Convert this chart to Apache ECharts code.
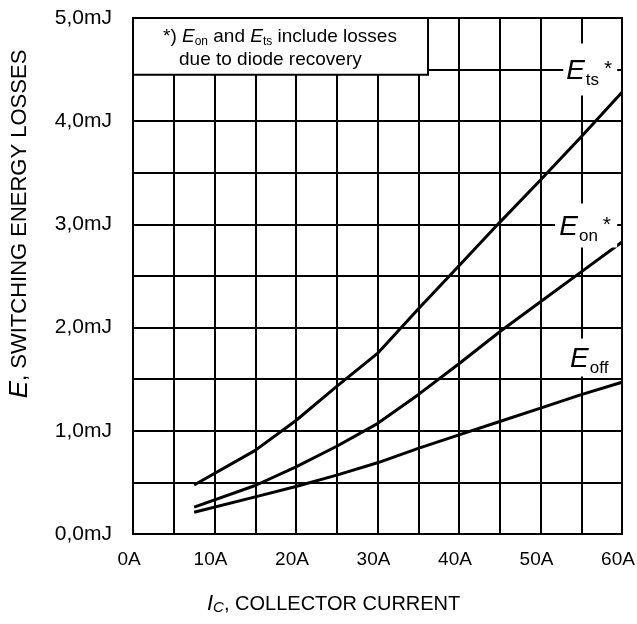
<!DOCTYPE html>
<html>
<head>
<meta charset="utf-8">
<script src="https://cdn.jsdelivr.net/npm/echarts@6/dist/echarts.min.js"></script>
<style>
  html, body { margin: 0; padding: 0; background: #fff; }
  #chart { width: 637px; height: 624px; }
</style>
</head>
<body>
<div id="chart"></div>
<script>
// Collector current (A) sample points
const currents = [7.5, 15, 20, 25, 30, 35, 40, 45, 50, 55, 60];
// Switching energy losses (mJ)
const eTs  = [0.475, 0.81, 1.10, 1.43, 1.75, 2.18, 2.60, 3.02, 3.43, 3.85, 4.28];
const eOn  = [0.26, 0.47, 0.65, 0.85, 1.07, 1.35, 1.65, 1.96, 2.25, 2.54, 2.83];
const eOff = [0.21, 0.36, 0.46, 0.57, 0.69, 0.83, 0.96, 1.09, 1.22, 1.35, 1.47];

// Axis tick labels
const xTickValues = [0, 10, 20, 30, 40, 50, 60];
const xTickLabels = ['0A', '10A', '20A', '30A', '40A', '50A', '60A'];
const yTickValues = [0, 1, 2, 3, 4, 5];
const yTickLabels = ['0,0mJ', '1,0mJ', '2,0mJ', '3,0mJ', '4,0mJ', '5,0mJ'];

const FONT = 'Liberation Sans, Arial, Helvetica, sans-serif';

function pairs(xs, ys) { return xs.map((x, i) => [x, ys[i]]); }

function curveLabel(name, sub, star, coord, box, offset) {
  return {
    silent: true,
    data: [{ coord: coord }],
    symbol: 'rect',
    symbolSize: box,
    itemStyle: { color: '#fff' },
    label: {
      show: true,
      position: 'inside',
      offset: offset,
      formatter: '{e|' + name + '}{s|' + sub + '}' + (star ? '{a|*}' : ''),
      rich: {
        e: { fontFamily: FONT, fontStyle: 'italic', fontSize: 28, color: '#000', padding: [0, 1, 0, 0] },
        s: { fontFamily: FONT, fontSize: 17, color: '#000', padding: [17, 0, 0, 0] },
        a: { fontFamily: FONT, fontSize: 21, color: '#000', padding: [0, 0, 4, 5] }
      }
    }
  };
}

const chart = echarts.init(document.getElementById('chart'), null, { renderer: 'canvas' });

const lineStyle = { color: '#000', width: 3 };

chart.setOption({
  animation: false,
  backgroundColor: '#fff',
  grid: {
    left: 133, right: 15, top: 18, bottom: 90,
    outerBoundsMode: 'none', containLabel: false,
    show: true, borderColor: '#000', borderWidth: 2, backgroundColor: 'transparent'
  },
  xAxis: {
    type: 'value', min: 0, max: 60, interval: 5,
    axisLine: { show: true, onZero: false, lineStyle: { color: '#000', width: 2 } },
    axisTick: { show: false },
    splitLine: { show: true, lineStyle: { color: '#000', width: 2 } },
    axisLabel: {
      margin: 16,
      padding: [0, 8, 0, 0],
      fontFamily: FONT, fontSize: 19, color: '#000',
      formatter: function (v) {
        const i = xTickValues.indexOf(v);
        return i >= 0 ? xTickLabels[i] : '';
      }
    }
  },
  yAxis: {
    type: 'value', min: 0, max: 5, interval: 0.5,
    axisLine: { show: true, lineStyle: { color: '#000', width: 2 } },
    axisTick: { show: false },
    splitLine: { show: true, lineStyle: { color: '#000', width: 2 } },
    axisLabel: {
      margin: 21,
      fontFamily: FONT, fontSize: 21, color: '#000',
      formatter: function (v) {
        const i = yTickValues.indexOf(Math.round(v * 10) / 10);
        return i >= 0 ? yTickLabels[i] : '';
      }
    }
  },
  series: [
    {
      name: 'Ets', type: 'line', data: pairs(currents, eTs),
      showSymbol: false, lineStyle: lineStyle, z: 3,
      markPoint: curveLabel('E', 'ts', true, [56.1, 4.5], [54, 52], [-1, 2])
    },
    {
      name: 'Eon', type: 'line', data: pairs(currents, eOn),
      showSymbol: false, lineStyle: lineStyle, z: 3,
      markPoint: curveLabel('E', 'on', true, [55.6, 2.99], [62, 44], [-1, 2])
    },
    {
      name: 'Eoff', type: 'line', data: pairs(currents, eOff),
      showSymbol: false, lineStyle: lineStyle, z: 3,
      markPoint: curveLabel('E', 'off', false, [56.1, 1.71], [50, 38], [-1, 2])
    }
  ]
});

// Note box in the upper-left corner and the axis titles
const p0 = chart.convertToPixel({ gridIndex: 0 }, [0, 5]);
const p1 = chart.convertToPixel({ gridIndex: 0 }, [36.2, 4.45]);

const noteRich = {
  n: { fontFamily: FONT, fontSize: 19, color: '#000' },
  i: { fontFamily: FONT, fontSize: 19, fontStyle: 'italic', color: '#000' },
  sub: { fontFamily: FONT, fontSize: 12, color: '#000', padding: [9, 0, 0, 0] }
};

chart.setOption({
  graphic: [
    {
      type: 'rect', z: 100,
      shape: { x: p0[0], y: p0[1], width: p1[0] - p0[0], height: p1[1] - p0[1] },
      style: { fill: '#fff', stroke: '#000', lineWidth: 2 }
    },
    {
      type: 'text', z: 101, x: p0[0] + 30, y: p0[1] + 19,
      style: {
        text: '{n|*) }{i|E}{sub|on}{n| and }{i|E}{sub|ts}{n| include losses}',
        rich: noteRich, verticalAlign: 'middle'
      }
    },
    {
      type: 'text', z: 101, x: p0[0] + 46, y: p0[1] + 42,
      style: {
        text: '{n|due to diode recovery}',
        rich: noteRich, verticalAlign: 'middle'
      }
    },
    {
      type: 'text', z: 101, x: 207, y: 604,
      style: {
        text: '{i|I}{c|C}{n|, COLLECTOR CURRENT}',
        verticalAlign: 'middle',
        rich: {
          i: { fontFamily: FONT, fontSize: 22, fontStyle: 'italic', color: '#000' },
          c: { fontFamily: FONT, fontSize: 15, fontStyle: 'italic', color: '#000', padding: [7, 0, 0, 0] },
          n: { fontFamily: FONT, fontSize: 20, color: '#000' }
        }
      }
    },
    {
      type: 'text', z: 101, x: 20, y: 224, rotation: Math.PI / 2,
      style: {
        text: '{i|E}{n|, SWITCHING ENERGY LOSSES}',
        align: 'center', verticalAlign: 'middle',
        rich: {
          i: { fontFamily: FONT, fontSize: 26, fontStyle: 'italic', color: '#000' },
          n: { fontFamily: FONT, fontSize: 22, color: '#000' }
        }
      }
    }
  ]
});
</script>
</body>
</html>
